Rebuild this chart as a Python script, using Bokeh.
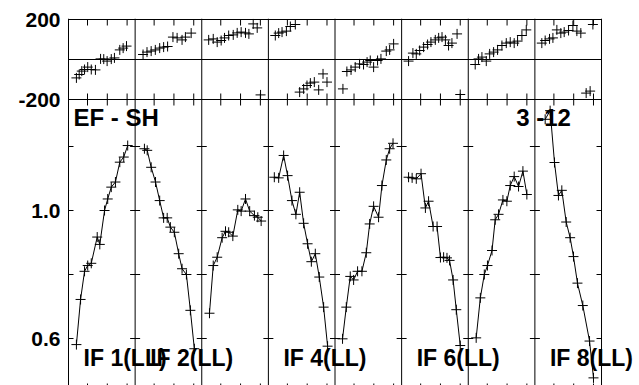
import numpy as np
from bokeh.plotting import figure
from bokeh.models import Range1d, FixedTicker, Span, Label, LinearAxis, CustomJSTickFormatter
from bokeh.embed import file_html
from bokeh.resources import INLINE

# ---------------- data (time in hours, phase in degrees, amplitude) ----------------
N_PANELS = 8
IF_LABELS = {0: "IF 1(LL)", 1: "IF 2(LL)", 3: "IF 4(LL)", 5: "IF 6(LL)", 7: "IF 8(LL)"}
BASELINE = "EF - SH"
STOKES_TAG = "3 -12"
TIME_TICKS = [1, 2, 3]
AMP_TICKS = [0.6, 0.8, 1.0, 1.2]
AMP_LABELS = {0.6: "0.6", 1.0: "1.0"}
PHASE_LABELS = {200: "200", -200: "-200"}
PHASE_LINES = [200, 0, -200]

PH_T = [
    [0.44, 0.58, 0.71, 0.85, 1.01, 1.19, 1.40, 1.66, 1.82, 1.99, 2.20, 2.36, 2.63, 2.80, 2.97],
    [0.44, 0.64, 0.85, 1.06, 1.28, 1.48, 1.68, 1.95, 2.16, 2.41, 2.58, 2.87],
    [0.39, 0.62, 0.82, 1.02, 1.19, 1.40, 1.63, 1.83, 2.03, 2.25, 2.42, 2.64, 2.84, 3.01],
    [0.39, 0.56, 0.73, 0.95, 1.15, 1.40, 1.62, 1.82, 1.99, 2.16, 2.36, 2.58, 2.80, 3.00],
    [0.44, 0.64, 0.85, 1.06, 1.28, 1.48, 1.66, 1.82, 1.99, 2.19, 2.36, 2.63, 2.80, 3.00],
    [0.39, 0.61, 0.78, 0.95, 1.15, 1.35, 1.52, 1.74, 1.91, 2.08, 2.25, 2.41, 2.58, 2.84, 3.00],
    [0.39, 0.56, 0.73, 0.95, 1.12, 1.32, 1.52, 1.74, 1.96, 2.16, 2.36, 2.53, 2.75, 2.97],
    [0.39, 0.56, 0.78, 0.95, 1.15, 1.35, 1.52, 1.74, 1.96, 2.16, 2.36, 2.63, 2.83, 2.97],
]
PH_V = [
    [-92, -75, -58, -50, -38, -50, -52, 3, 2, -8, 2, 8, 48, 57, 67],
    [25, 37, 42, 48, 57, 62, 65, 112, 108, 98, 112, 132],
    [98, 103, 87, 95, 108, 120, 123, 133, 137, 133, 128, 178, 158, -177],
    [120, 132, 137, 142, 165, 175, -163, -147, -130, -118, -113, -152, -72, -113],
    [-147, -60, -52, -38, -22, -25, -13, -5, -38, -5, 3, 42, 48, 78],
    [-8, 32, 28, 45, 62, 75, 87, 98, 108, 112, 98, 70, 82, 128, -175],
    [-25, 3, 12, -8, 28, 37, 48, 70, 82, 87, 82, 92, 120, 148],
    [82, 95, 103, 108, 148, 132, 137, 145, 170, 142, 132, -168, -158, 175],
]
AMP_T = [
    [0.44, 0.65, 0.85, 1.01, 1.19, 1.49, 1.62, 1.86, 2.02, 2.20, 2.41, 2.63, 2.83, 3.03],
    [0.51, 0.65, 0.85, 1.07, 1.28, 1.48, 1.66, 1.82, 2.02, 2.24, 2.41, 2.63, 2.83, 3.03],
    [0.43, 0.62, 0.82, 1.07, 1.24, 1.40, 1.61, 1.86, 2.03, 2.25, 2.46, 2.70, 2.87, 3.04],
    [0.34, 0.56, 0.81, 1.01, 1.23, 1.43, 1.62, 1.82, 2.02, 2.21, 2.41, 2.61, 2.83, 3.03],
    [0.42, 0.61, 0.81, 0.98, 1.18, 1.40, 1.62, 1.79, 1.99, 2.24, 2.41, 2.63, 2.80, 2.97],
    [0.39, 0.57, 0.78, 1.02, 1.24, 1.40, 1.63, 1.83, 2.00, 2.16, 2.33, 2.46, 2.64, 2.80, 3.00],
    [0.44, 0.65, 0.85, 1.01, 1.24, 1.40, 1.57, 1.79, 1.99, 2.16, 2.36, 2.58, 2.80, 3.00],
    [0.56, 0.81, 1.03, 1.23, 1.40, 1.62, 1.82, 1.99, 2.19, 2.46, 2.80, 3.00],
]
AMP_V = [
    [0.581, 0.722, 0.810, 0.828, 0.835, 0.917, 0.894, 1.000, 1.036, 1.073, 1.089, 1.151, 1.167, 1.203],
    [1.193, 1.188, 1.135, 1.089, 1.031, 0.977, 0.977, 0.948, 0.932, 0.865, 0.818, 0.800, 0.688, 0.568],
    [0.679, 0.828, 0.854, 0.915, 0.935, 0.932, 0.920, 1.002, 0.998, 1.036, 0.998, 0.984, 0.979, 0.967],
    [1.104, 1.102, 1.172, 1.109, 1.031, 0.988, 1.057, 0.960, 0.896, 0.840, 0.865, 0.792, 0.698, 0.576],
    [0.599, 0.698, 0.794, 0.783, 0.810, 0.810, 0.868, 0.958, 1.013, 0.979, 1.078, 1.158, 1.193, 1.210],
    [1.104, 1.102, 1.099, 1.115, 1.008, 1.029, 0.950, 0.950, 0.853, 0.854, 0.852, 0.844, 0.783, 0.690, 0.578],
    [0.602, 0.727, 0.800, 0.828, 0.875, 0.971, 0.988, 1.033, 1.029, 1.078, 1.106, 1.075, 1.123, 1.050],
    [1.285, 1.312, 1.150, 1.047, 1.063, 0.964, 0.915, 0.856, 0.773, 0.703, 0.592, 0.477],
]

# ---------------- scales / layout (canvas starts at page 0,0) ----------------
W, H = 639, 385
FRAME_L, FRAME_T = 67, 18
T0 = 0.04            # time at left edge of each panel (h)
SPAN = 3.365         # time span of one panel (h)
PX_PER_H = 19.8
X_LO = T0 - 1.0 / PX_PER_H
X_HI = X_LO + (W - FRAME_L) / PX_PER_H
PX_PER_AMP = 320.0
AMP_HI = 1.0 + (210 - FRAME_T) / PX_PER_AMP
AMP_LO = 1.0 - (H - 210) / PX_PER_AMP
BOX_BOTTOM = 1.0 - (389 - 210) / PX_PER_AMP     # box bottom lies just below the visible area
PX_PER_DEG = 0.2
PH_HI = 200.0 + 1.0 / PX_PER_DEG
PH_LO = PH_HI - (H - FRAME_T) / PX_PER_DEG
FONT = "Liberation Sans"


def ph_to_amp(v):
    return AMP_LO + (v - PH_LO) / (PH_HI - PH_LO) * (AMP_HI - AMP_LO)


p = figure(width=W, height=H, output_backend="svg", toolbar_location=None,
           x_range=Range1d(X_LO, X_HI), y_range=Range1d(AMP_LO, AMP_HI),
           x_axis_location=None, y_axis_location=None,
           min_border_left=FRAME_L, min_border_right=0, min_border_top=FRAME_T, min_border_bottom=0)
p.extra_y_ranges = {"phase": Range1d(PH_LO, PH_HI)}
p.xgrid.visible = False
p.ygrid.visible = False
p.outline_line_color = None
p.background_fill_color = "white"
p.border_fill_color = "white"

# single left axis carrying both the phase labels and the amplitude labels
tick_vals = [ph_to_amp(v) for v in PHASE_LABELS] + list(AMP_LABELS)
tick_text = list(PHASE_LABELS.values()) + list(AMP_LABELS.values())
yax = LinearAxis(ticker=FixedTicker(ticks=tick_vals, minor_ticks=[]),
                 formatter=CustomJSTickFormatter(args=dict(vals=tick_vals, labs=tick_text), code="""
                     let best = 0, d = 1e9;
                     for (let i = 0; i < vals.length; i++) {
                         const e = Math.abs(vals[i] - tick);
                         if (e < d) { d = e; best = i; }
                     }
                     return labs[best];
                 """))
yax.axis_line_color = None
yax.major_tick_in = 0
yax.major_tick_out = 0
yax.minor_tick_line_color = None
yax.major_label_standoff = 7
yax.major_label_text_font = FONT
yax.major_label_text_font_style = "bold"
yax.major_label_text_font_size = "21px"
yax.major_label_text_color = "black"
p.add_layout(yax, "left")

# panel box: vertical borders and horizontal phase lines
bounds = [T0 + k * SPAN for k in range(N_PANELS + 1)]
for b in bounds:
    p.add_layout(Span(location=b, dimension="height", line_color="black", line_width=1))
p.segment(x0=[bounds[0]] * len(PHASE_LINES), x1=[bounds[-1]] * len(PHASE_LINES),
          y0=PHASE_LINES, y1=PHASE_LINES, y_range_name="phase", line_color="black", line_width=1)

# time ticks: inward at top of phase box, both sides of the divider, bottom of amplitude box
xt = [k * SPAN + h for k in range(N_PANELS) for h in TIME_TICKS]
n = len(xt)
p.segment(x0=xt, x1=xt, y0=[200] * n, y1=[200 - 6 / PX_PER_DEG] * n,
          y_range_name="phase", line_color="black", line_width=1)
p.segment(x0=xt, x1=xt, y0=[-200 + 6 / PX_PER_DEG] * n, y1=[-200 - 6 / PX_PER_DEG] * n,
          y_range_name="phase", line_color="black", line_width=1)
p.segment(x0=xt, x1=xt, y0=[BOX_BOTTOM] * n, y1=[BOX_BOTTOM + 6 / PX_PER_AMP] * n,
          line_color="black", line_width=1)

# amplitude ticks at every panel border (inward only at the outer edges)
bx0, bx1, by = [], [], []
for i, b in enumerate(bounds):
    for a in AMP_TICKS:
        bx0.append(b - (0 if i == 0 else 5 / PX_PER_H))
        bx1.append(b + (0 if i == N_PANELS else 5 / PX_PER_H))
        by.append(a)
p.segment(x0=bx0, x1=bx1, y0=by, y1=by, line_color="black", line_width=1)

# data
for k in range(N_PANELS):
    off = k * SPAN
    px = [off + t for t in PH_T[k]]
    p.cross(x=px, y=PH_V[k], y_range_name="phase", size=10, line_color="black", line_width=1)
    ax_ = [off + t for t in AMP_T[k]]
    p.line(x=ax_, y=AMP_V[k], line_color="black", line_width=1)
    p.cross(x=ax_, y=AMP_V[k], size=10, line_color="black", line_width=1)


def add_label(x, y, text, size):
    p.add_layout(Label(x=x, y=y, text=text, text_font=FONT, text_font_style="bold",
                       text_font_size=size, text_color="black",
                       text_align="left", text_baseline="alphabetic"))


add_label(T0 + 0.25, 1.0 + 93 / PX_PER_AMP, BASELINE, "24px")
add_label(T0 + 22.61, 1.0 + 93 / PX_PER_AMP, STOKES_TAG, "24px")
for k, name in IF_LABELS.items():
    add_label(T0 + k * SPAN + 0.76, 1.0 - 147 / PX_PER_AMP, name, "23px")

open("out.html", "w").write(file_html(p, INLINE))
